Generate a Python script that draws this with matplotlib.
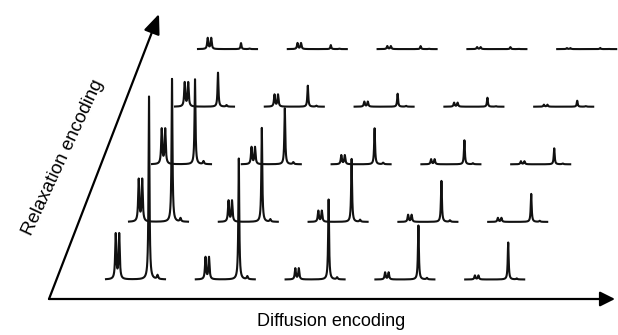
import matplotlib
matplotlib.use("Agg")
import matplotlib.pyplot as plt
import numpy as np

# peak heights (pixels) per spectrum, rows = relaxation step (bottom to top),
# columns = diffusion step (left to right)
tall_peak = [
    [183, 121, 80, 54, 37],
    [143, 94, 63, 41, 28],
    [85, 56, 36, 24, 16],
    [34, 21, 13, 9, 6],
    [6, 4, 3, 2, 1.2],
]
doublet_peak = [
    [45, 22, 11, 7, 4],
    [42, 21, 11, 7, 4],
    [35, 17, 9, 5, 3],
    [24, 12, 5, 4, 2],
    [11, 6, 3, 2, 1],
]
small_peak = [
    [4, 3, 2, 1.5, 1],
    [3.5, 2.5, 2, 1.5, 1],
    [3, 2, 1.5, 1, 0.8],
    [1.5, 1, 0.8, 0.5, 0.5],
    [0.5, 0.4, 0.3, 0.2, 0.2],
]
# peak positions inside one spectrum (local units, spectrum is 59 wide)
doublet_pos = [9.7, 13.2]
tall_pos = 43.0
small_pos = 51.5
spec_width = 59.0

axis_labels = ["Diffusion encoding", "Relaxation encoding"]


def lorentz(x, pos, h, gamma=0.55):
    return h * gamma**2 / ((x - pos) ** 2 + gamma**2)


def spectrum(r, c):
    x = np.linspace(0, spec_width, 1200)
    y = lorentz(x, tall_pos, tall_peak[r][c], 0.55)
    y += lorentz(x, small_pos, small_peak[r][c], 0.7)
    for p in doublet_pos:
        y += lorentz(x, p, doublet_peak[r][c], 0.65)
    return x, y


fig = plt.figure(figsize=(6.18, 3.35), dpi=100)
ax = fig.add_axes([0, 0, 1, 1])
ax.set_xlim(0, 618)
ax.set_ylim(335, 0)
ax.axis("off")

# layout of the skewed grid (figure pixels)
x_start, y_start = 106, 279.5
col_step = 89.8
row_dx, row_dy = 23.0, -57.6

for r in range(len(tall_peak)):
    for c in range(len(tall_peak[r])):
        x, y = spectrum(r, c)
        x0 = x_start + c * col_step + r * row_dx
        base = y_start + r * row_dy
        ax.plot(x0 + x, base - y, color="#111111", lw=1.5, solid_joinstyle="round")

# axes arrows
origin = (49, 299)
ax.annotate("", xy=(615, 299), xytext=origin,
            arrowprops=dict(arrowstyle="-|>,head_length=0.9,head_width=0.45",
                            lw=1.6, color="black", shrinkA=0, shrinkB=0))
ax.annotate("", xy=(159, 14), xytext=origin,
            arrowprops=dict(arrowstyle="-|>,head_length=1.2,head_width=0.5",
                            lw=1.6, color="black", shrinkA=0, shrinkB=0))

ax.text(331, 321, axis_labels[0], ha="center", va="center",
        fontsize=13, family="Liberation Sans")
ax.text(63, 157, axis_labels[1], ha="center", va="center",
        fontsize=13.5, family="Liberation Sans", rotation=65,
        rotation_mode="anchor")

fig.savefig("out.png", dpi=100)
